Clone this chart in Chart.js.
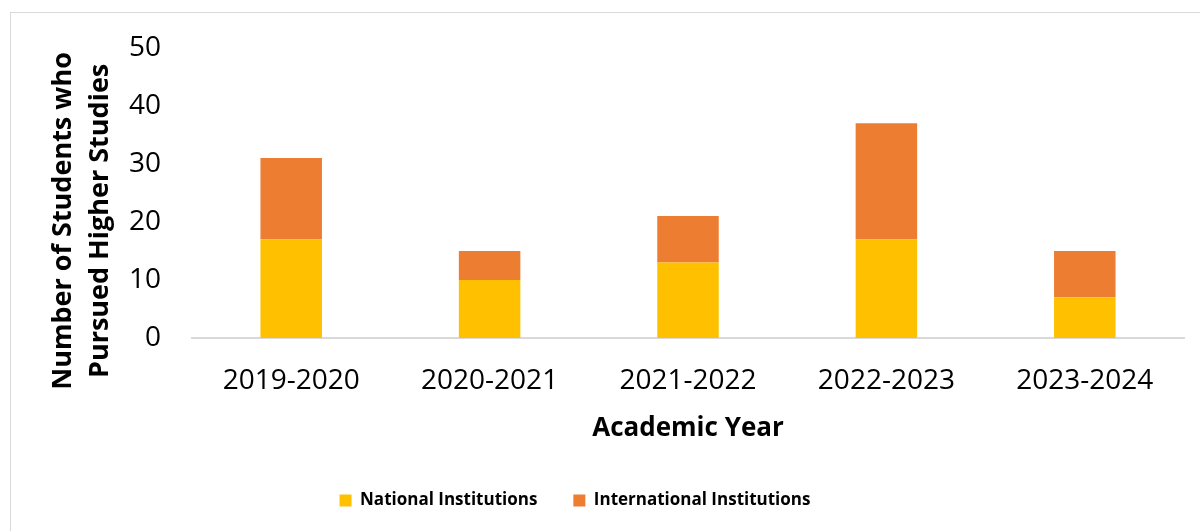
<!DOCTYPE html>
<html>
<head>
<meta charset="utf-8">
<script src="https://cdn.jsdelivr.net/npm/chart.js@4"></script>
<style>
    html, body { margin: 0; padding: 0; background: #fff; }
    #wrap { position: relative; width: 1200px; height: 531px; overflow: hidden; }
    #frame { position: absolute; left: 10px; top: 12px; width: 1200px; height: 540px; border: 1px solid #d9d9d9; box-sizing: border-box; }
    #myChart { position: absolute; left: 0; top: 0; }
</style>
</head>
<body>
<div id="wrap">
    <div id="frame"></div>
    <canvas id="myChart" width="1200" height="531"></canvas>
</div>
<script>
const years = ["2019-2020", "2020-2021", "2021-2022", "2022-2023", "2023-2024"];
const national = [17, 10, 13, 17, 7];
const international = [14, 5, 8, 20, 8];
const yTicks = [0, 10, 20, 30, 40, 50];

const ctx = document.getElementById('myChart');
const font = "'Open Sans', 'DejaVu Sans', sans-serif";

// legend sits centred under the whole frame, not the padded box
const legendShift = {
    id: 'legendShift',
    afterLayout(chart) {
        chart.legend.left -= 37;
        chart.legend.right -= 37;
    }
};

// centre the y title over plot + category labels (stretch the box only while drawing)
const yTitleCentre = {
    id: 'yTitleCentre',
    beforeDraw(chart) {
        chart.scales.y.bottom += 56;
    },
    afterDraw(chart) {
        chart.scales.y.bottom -= 56;
    }
};

new Chart(ctx, {
    type: 'bar',
    data: {
        labels: years,
        datasets: [{
            label: "National Institutions",
            data: national,
            backgroundColor: "#ffc000",
            categoryPercentage: 1,
            barPercentage: 0.31,
        }, {
            label: "International Institutions",
            data: international,
            backgroundColor: "#ed7d31",
            categoryPercentage: 1,
            barPercentage: 0.31,
        }]
    },
    plugins: [legendShift, yTitleCentre],
    options: {
        responsive: false,
        animation: false,
        layout: {
            padding: { top: 33, left: 40, right: 16, bottom: 12 }
        },
        plugins: {
            legend: {
                position: 'bottom',
                labels: {
                    boxWidth: 12,
                    boxHeight: 12,
                    padding: 36,
                    color: "#000",
                    font: { family: font, size: 17, weight: 'bold' },
                }
            },
            tooltip: { enabled: false }
        },
        scales: {
            x: {
                stacked: true,
                afterFit: (scale) => {
                    scale.height = 118;
                },
                grid: { display: false, drawTicks: false },
                border: { display: true, color: "#d9d9d9", width: 2 },
                ticks: {
                    color: "#000",
                    padding: 26,
                    font: { family: font, size: 28 },
                },
                title: {
                    display: true,
                    text: "Academic Year",
                    color: "#000",
                    padding: { top: 0, bottom: 12 },
                    font: { family: font, size: 26, weight: 'bold' },
                }
            },
            y: {
                stacked: true,
                min: 0,
                max: 50,
                afterBuildTicks: (scale) => {
                    scale.ticks = yTicks.map((v) => ({ value: v }));
                },
                afterFit: (scale) => {
                    scale.width = 152;
                },
                grid: { display: false, drawTicks: false },
                border: { display: false },
                ticks: {
                    color: "#000",
                    padding: 31,
                    font: { family: font, size: 28 },
                },
                title: {
                    display: true,
                    text: ["Number of Students who", "Pursued Higher Studies"],
                    color: "#000",
                    padding: { top: 5, bottom: 0 },
                    font: { family: font, size: 27, weight: 'bold', lineHeight: 1.37 },
                }
            }
        }
    }
});
</script>
</body>
</html>
